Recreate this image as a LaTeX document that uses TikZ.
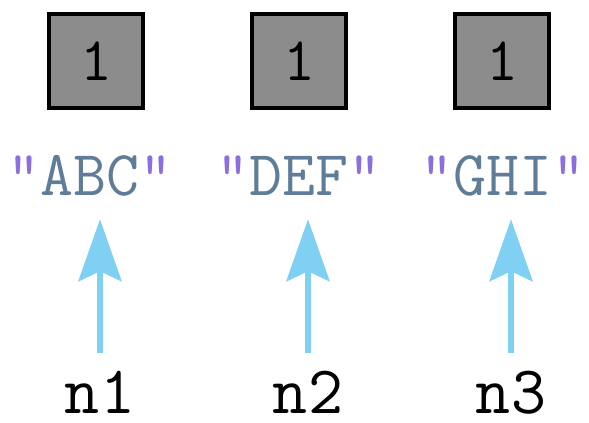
\documentclass[tikz,border=0pt]{standalone}
\usetikzlibrary{arrows.meta}
\definecolor{boxgray}{HTML}{8C8C8C}
\definecolor{quotepurple}{HTML}{8B6FE0}
\definecolor{strblue}{HTML}{5F7C98}
\definecolor{arrowblue}{HTML}{80D0F4}
\tikzset{
  cell/.style={draw=black, line width=3.5pt, fill=boxgray, minimum width=94pt, minimum height=94pt, inner sep=0pt,
    font=\ttfamily\fontsize{62}{62}\selectfont},
  strlbl/.style={inner sep=0pt, text height=38pt, text depth=0pt, font=\ttfamily\fontsize{64}{64}\selectfont, text=strblue},
  varlbl/.style={inner sep=0pt, text height=40pt, text depth=0pt, font=\ttfamily\fontsize{68}{68}\selectfont},
  ptr/.style={draw=arrowblue, line width=6pt, -{Stealth[length=62pt, width=43pt, inset=10pt]}, shorten <=20pt, shorten >=24pt}
}
\newcommand{\qm}{\textcolor{quotepurple}{"}}
\begin{document}
\begin{tikzpicture}[x=1pt,y=-1pt]
\useasboundingbox (0,0) rectangle (589,423);
\node[cell] (b1) at (96,61) {1};
\node[cell] (b2) at (299,61) {1};
\node[cell] (b3) at (502,61) {1};
\node[strlbl] (s1) at (90,176) {\qm ABC\qm};
\node[strlbl] (s2) at (299,176) {\qm DEF\qm};
\node[strlbl] (s3) at (503,176) {\qm GHI\qm};
\node[varlbl] (n1) at (100,393) {n1};
\node[varlbl] (n2) at (308,393) {n2};
\node[varlbl] (n3) at (511,393) {n3};
\draw[ptr] (n1.north) -- (n1.north |- s1.south);
\draw[ptr] (n2.north) -- (n2.north |- s2.south);
\draw[ptr] (n3.north) -- (n3.north |- s3.south);
\end{tikzpicture}
\end{document}
